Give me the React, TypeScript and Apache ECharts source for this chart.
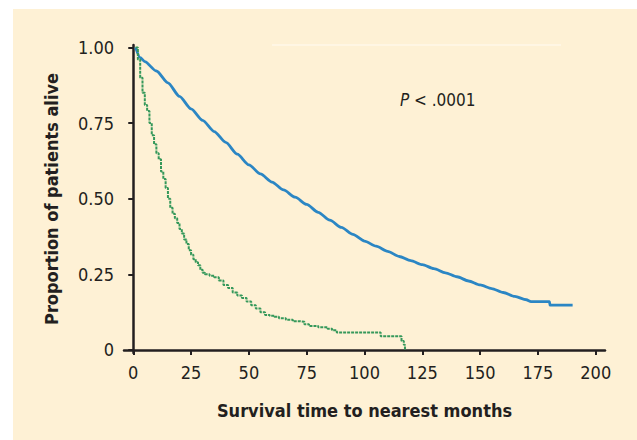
import React, { useEffect, useRef } from "react";
import * as echarts from "echarts";

const xTicks = [0, 25, 50, 75, 100, 125, 150, 175, 200];
const yTicks = [0, 0.25, 0.5, 0.75, 1.0];

// Group 1 (blue) — months, proportion alive
const blueTime = [1, 3, 5, 10, 15, 20, 25, 30, 35, 40, 45, 50, 55, 60, 65, 70, 75, 80, 85, 90, 95, 100, 105, 110, 115, 120, 125, 130, 135, 140, 145, 150, 155, 160, 165, 170, 172, 180, 180.2, 190];
const blueSurv = [1.0, 0.966, 0.953, 0.922, 0.883, 0.838, 0.797, 0.759, 0.722, 0.686, 0.647, 0.612, 0.582, 0.555, 0.529, 0.505, 0.481, 0.455, 0.429, 0.405, 0.382, 0.36, 0.343, 0.326, 0.309, 0.295, 0.282, 0.269, 0.255, 0.242, 0.228, 0.215, 0.203, 0.19, 0.177, 0.166, 0.16, 0.16, 0.148, 0.148];

// Group 2 (green)
const greenTime = [1, 2, 3, 4, 5, 6, 7, 8, 9, 10, 11, 12, 13, 14, 15, 16, 17, 18, 19, 20, 21, 22, 23, 24, 25, 26, 27, 28, 29, 30, 31, 33, 35, 37, 39, 41, 43, 45, 47, 49, 51, 53, 55, 57, 59, 61, 63, 66, 69, 72, 74, 76, 80, 84, 86, 88, 106, 107, 115, 116, 117, 117.5];
const greenSurv = [1.0, 0.96, 0.9, 0.85, 0.81, 0.79, 0.75, 0.71, 0.68, 0.65, 0.63, 0.59, 0.565, 0.535, 0.5, 0.47, 0.45, 0.435, 0.42, 0.4, 0.385, 0.365, 0.35, 0.33, 0.315, 0.3, 0.29, 0.28, 0.265, 0.255, 0.25, 0.245, 0.24, 0.23, 0.215, 0.205, 0.19, 0.18, 0.172, 0.16, 0.148, 0.137, 0.125, 0.116, 0.113, 0.11, 0.105, 0.1, 0.095, 0.093, 0.085, 0.079, 0.075, 0.07, 0.065, 0.058, 0.058, 0.045, 0.045, 0.03, 0.017, 0];

const xTitle = "Survival time to nearest months";
const yTitle = "Proportion of patients alive";
const pText = "P";
const pRest = " < .0001";

const FONT = "'Liberation Sans Narrow', 'DejaVu Sans Condensed', 'Open Sans', sans-serif";
const INK = "#231f20";

export default function App() {
  const ref = useRef<HTMLDivElement>(null);
  useEffect(() => {
    if (!ref.current) return;
    const chart = echarts.init(ref.current, undefined, { renderer: "svg" });
    const blue = blueTime.map((t, i) => [t, blueSurv[i]]);
    const green = greenTime.map((t, i) => [t, greenSurv[i]]);
    chart.setOption({
      animation: false,
      backgroundColor: "#ffffff",
      graphic: [
        { type: "rect", z: -10, silent: true, shape: { x: 13, y: 9, width: 624, height: 431 }, style: { fill: "#fef1d5" } },
        { type: "line", z: -9, silent: true, shape: { x1: 272, y1: 45, x2: 561, y2: 45 }, style: { stroke: "#fff6e4", lineWidth: 2 } },
        {
          type: "text",
          left: 400,
          top: 91,
          style: {
            text: "{i|" + pText + "}{r|" + pRest + "}",
            rich: {
              i: { fontStyle: "italic", fontSize: 17, fontFamily: FONT, fill: INK },
              r: { fontSize: 17, fontFamily: FONT, fill: INK },
            },
          },
        },
      ],
      grid: { left: 124, right: 32, top: 45, bottom: 87, containLabel: false },
      xAxis: {
        type: "value",
        min: -4,
        max: 204,
        name: xTitle,
        nameLocation: "middle",
        nameGap: 48,
        nameTextStyle: { fontFamily: FONT, fontWeight: "bold", fontSize: 18, color: INK },
        axisLine: { show: true, lineStyle: { color: INK, width: 2.5 } },
        axisTick: { show: true, length: 5, lineStyle: { color: INK, width: 2 }, customValues: xTicks },
        axisLabel: { fontFamily: FONT, fontSize: 18, color: INK, margin: 10, customValues: xTicks, formatter: (v: number) => String(v) },
        splitLine: { show: false },
      },
      yAxis: {
        type: "value",
        min: -0.01,
        max: 1.008,
        name: yTitle,
        nameLocation: "middle",
        nameGap: 64,
        nameRotate: 90,
        nameTextStyle: { fontFamily: FONT, fontWeight: "bold", fontSize: 18, color: INK },
        axisLine: { show: true, lineStyle: { color: INK, width: 2.5 } },
        axisTick: { show: true, length: 5, lineStyle: { color: INK, width: 2 }, customValues: yTicks },
        axisLabel: { fontFamily: FONT, fontSize: 18, color: INK, margin: 10, customValues: yTicks, formatter: (v: number) => (v === 0 ? "0" : v.toFixed(2)) },
        splitLine: { show: false },
      },
      series: [
        {
          type: "line",
          data: blue,
          showSymbol: false,
          smooth: 0.25,
          smoothMonotone: "x",
          lineStyle: { color: "#2b86c4", width: 2.8 },
          z: 3,
        },
        {
          type: "line",
          data: green,
          step: "end",
          showSymbol: false,
          lineStyle: { color: "#35985a", width: 2, type: [3, 1] },
          z: 4,
        },
      ],
    });
    return () => chart.dispose();
  }, []);
  return <div ref={ref} style={{ position: "fixed", left: 0, top: 0, width: 637, height: 440 }} />;
}
